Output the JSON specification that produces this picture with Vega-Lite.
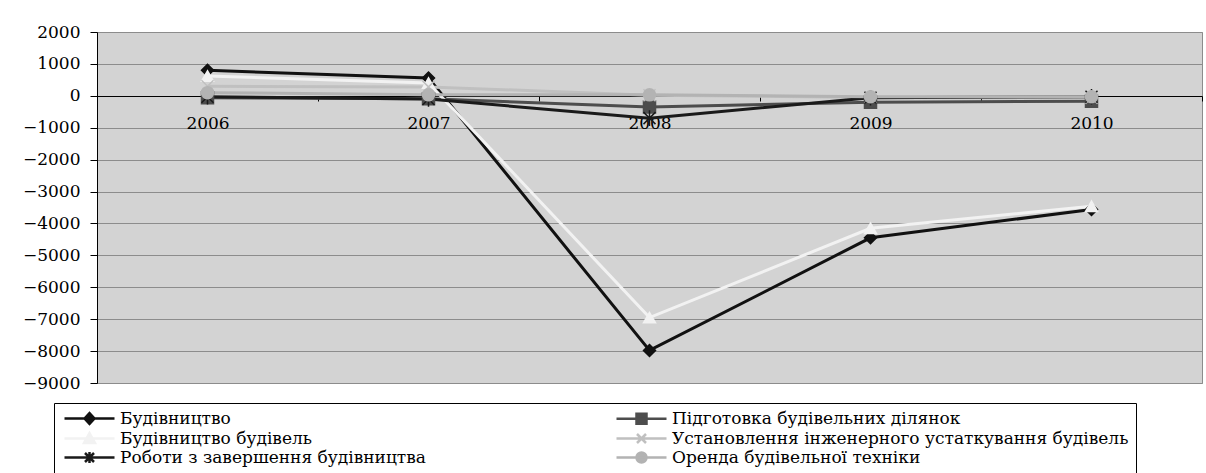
{
  "$schema": "https://vega.github.io/schema/vega-lite/v6.json",
  "width": 1105,
  "height": 351,
  "autosize": {"type": "none"},
  "padding": {"left": 97, "top": 32, "right": 4, "bottom": 90},
  "background": "white",
  "config": {
    "view": {"fill": "#d3d3d3", "stroke": "#8c8c8c", "strokeWidth": 1},
    "font": "DejaVu Serif"
  },
  "data": {
    "values": [
      {"year": "2006", "series": "Будівництво", "value": 800},
      {"year": "2007", "series": "Будівництво", "value": 560},
      {"year": "2008", "series": "Будівництво", "value": -7980},
      {"year": "2009", "series": "Будівництво", "value": -4450},
      {"year": "2010", "series": "Будівництво", "value": -3560},
      {"year": "2006", "series": "Підготовка будівельних ділянок", "value": -60},
      {"year": "2007", "series": "Підготовка будівельних ділянок", "value": -90},
      {"year": "2008", "series": "Підготовка будівельних ділянок", "value": -350},
      {"year": "2009", "series": "Підготовка будівельних ділянок", "value": -200},
      {"year": "2010", "series": "Підготовка будівельних ділянок", "value": -170},
      {"year": "2006", "series": "Будівництво будівель", "value": 620},
      {"year": "2007", "series": "Будівництво будівель", "value": 400},
      {"year": "2008", "series": "Будівництво будівель", "value": -6950},
      {"year": "2009", "series": "Будівництво будівель", "value": -4150},
      {"year": "2010", "series": "Будівництво будівель", "value": -3460},
      {"year": "2006", "series": "Установлення інженерного устаткування будівель", "value": 300},
      {"year": "2007", "series": "Установлення інженерного устаткування будівель", "value": 280},
      {"year": "2008", "series": "Установлення інженерного устаткування будівель", "value": 20},
      {"year": "2009", "series": "Установлення інженерного устаткування будівель", "value": -50},
      {"year": "2010", "series": "Установлення інженерного устаткування будівель", "value": -60},
      {"year": "2006", "series": "Роботи з завершення будівництва", "value": -30},
      {"year": "2007", "series": "Роботи з завершення будівництва", "value": -100},
      {"year": "2008", "series": "Роботи з завершення будівництва", "value": -700},
      {"year": "2009", "series": "Роботи з завершення будівництва", "value": -60},
      {"year": "2010", "series": "Роботи з завершення будівництва", "value": -30},
      {"year": "2006", "series": "Оренда будівельної техніки", "value": 100},
      {"year": "2007", "series": "Оренда будівельної техніки", "value": 30},
      {"year": "2008", "series": "Оренда будівельної техніки", "value": 30},
      {"year": "2009", "series": "Оренда будівельної техніки", "value": -30},
      {"year": "2010", "series": "Оренда будівельної техніки", "value": -30}
    ]
  },
  "encoding": {
    "x": {
      "field": "year",
      "type": "ordinal",
      "scale": {"type": "band", "paddingInner": 0, "paddingOuter": 0},
      "axis": {
        "orient": "bottom",
        "offset": -287,
        "title": null,
        "grid": false,
        "labelAngle": 0,
        "domainColor": "black",
        "domainWidth": 1,
        "ticks": true,
        "tickBand": "extent",
        "tickSize": 5,
        "tickColor": "black",
        "labelPadding": 14,
        "labelFont": "DejaVu Serif",
        "labelFontSize": 17,
        "labelColor": "black"
      }
    },
    "y": {
      "field": "value",
      "type": "quantitative",
      "scale": {"domain": [-9000, 2000], "nice": false, "zero": false},
      "axis": {
        "title": null,
        "values": [-9000, -8000, -7000, -6000, -5000, -4000, -3000, -2000, -1000, 0, 1000, 2000],
        "format": "d",
        "grid": true,
        "gridColor": "#8c8c8c",
        "gridWidth": 1,
        "gridOpacity": 1,
        "domainColor": "black",
        "tickColor": "black",
        "tickSize": 7,
        "labelPadding": 10,
        "labelFont": "DejaVu Serif",
        "labelFontSize": 17,
        "labelColor": "black"
      }
    }
  },
  "layer": [
    {
      "mark": {"type": "line", "strokeWidth": 3},
      "encoding": {
        "color": {
          "field": "series",
          "type": "nominal",
          "scale": {
            "domain": ["Будівництво", "Підготовка будівельних ділянок", "Будівництво будівель", "Установлення інженерного устаткування будівель", "Роботи з завершення будівництва", "Оренда будівельної техніки"],
            "range": ["#111111", "#4d4d4d", "#f2f2f2", "#c0c0c0", "#1a1a1a", "#b3b3b3"]
          },
          "legend": null
        }
      }
    },
    {
      "mark": {"type": "point", "filled": true, "size": 144, "strokeWidth": 1.5, "opacity": 1},
      "encoding": {
        "color": {
          "field": "series",
          "type": "nominal",
          "scale": {
            "domain": ["Будівництво", "Підготовка будівельних ділянок", "Будівництво будівель", "Установлення інженерного устаткування будівель", "Роботи з завершення будівництва", "Оренда будівельної техніки"],
            "range": ["#111111", "#4d4d4d", "#f2f2f2", "#c0c0c0", "#1a1a1a", "#b3b3b3"]
          },
          "legend": null
        },
        "stroke": {
          "field": "series",
          "type": "nominal",
          "scale": {
            "domain": ["Будівництво", "Підготовка будівельних ділянок", "Будівництво будівель", "Установлення інженерного устаткування будівель", "Роботи з завершення будівництва", "Оренда будівельної техніки"],
            "range": ["#111111", "#4d4d4d", "#f2f2f2", "#c0c0c0", "#1a1a1a", "#b3b3b3"]
          },
          "legend": null
        },
        "shape": {
          "field": "series",
          "type": "nominal",
          "scale": {
            "domain": ["Будівництво", "Підготовка будівельних ділянок", "Будівництво будівель", "Установлення інженерного устаткування будівель", "Роботи з завершення будівництва", "Оренда будівельної техніки"],
            "range": ["diamond", "square", "triangle-up", "M-1,-1L1,1M-1,1L1,-1", "M-1,-1L1,1M-1,1L1,-1M0,-1.3V1.3", "circle"]
          },
          "legend": null
        }
      }
    },
    {
      "transform": [{"filter": {"field": "series", "equal": "none"}}],
      "mark": {"type": "point", "filled": true, "size": 100, "strokeWidth": 2.5, "opacity": 1},
      "encoding": {
        "color": {
          "field": "series",
          "type": "nominal",
          "scale": {
            "domain": ["Будівництво", "Будівництво будівель", "Роботи з завершення будівництва", "Підготовка будівельних ділянок", "Установлення інженерного устаткування будівель", "Оренда будівельної техніки"],
            "range": ["#111111", "#f2f2f2", "#1a1a1a", "#4d4d4d", "#c0c0c0", "#b3b3b3"]
          },
          "legend": {"title": null, "orient": "none", "legendX": -43, "legendY": 371, "columns": 2, "columnPadding": 185, "rowPadding": -1, "padding": 7, "strokeColor": "black", "fillColor": "white", "labelFont": "DejaVu Serif", "labelFontSize": 17, "labelColor": "black", "labelLimit": 700, "symbolStrokeWidth": 2.5, "labelOffset": 42, "symbolOpacity": 1}
        },
        "stroke": {
          "field": "series",
          "type": "nominal",
          "scale": {
            "domain": ["Будівництво", "Будівництво будівель", "Роботи з завершення будівництва", "Підготовка будівельних ділянок", "Установлення інженерного устаткування будівель", "Оренда будівельної техніки"],
            "range": ["#111111", "#f2f2f2", "#1a1a1a", "#4d4d4d", "#c0c0c0", "#b3b3b3"]
          },
          "legend": {"title": null, "orient": "none", "legendX": -43, "legendY": 371, "columns": 2, "columnPadding": 185, "rowPadding": -1, "padding": 7, "strokeColor": "black", "fillColor": "white", "labelFont": "DejaVu Serif", "labelFontSize": 17, "labelColor": "black", "labelLimit": 700, "symbolStrokeWidth": 2.5, "labelOffset": 42, "symbolOpacity": 1}
        },
        "shape": {
          "field": "series",
          "type": "nominal",
          "scale": {
            "domain": ["Будівництво", "Будівництво будівель", "Роботи з завершення будівництва", "Підготовка будівельних ділянок", "Установлення інженерного устаткування будівель", "Оренда будівельної техніки"],
            "range": [
              "M-1,0H9M3,0L4,-1.1L5,0L4,1.1Z",
              "M-1,0H9M4,-1.1L5.1,0.9H2.9Z",
              "M-1,0H9M3.1,-0.9L4.9,0.9M3.1,0.9L4.9,-0.9M4,-1.1V1.1",
              "M-1,0H9M3,-1H5V1H3Z",
              "M-1,0H9M3.1,-0.9L4.9,0.9M3.1,0.9L4.9,-0.9",
              "M-1,0H9M5,0A1,1,0,1,1,3,0A1,1,0,1,1,5,0Z"
            ]
          },
          "legend": {"title": null, "orient": "none", "legendX": -43, "legendY": 371, "columns": 2, "columnPadding": 185, "rowPadding": -1, "padding": 7, "strokeColor": "black", "fillColor": "white", "labelFont": "DejaVu Serif", "labelFontSize": 17, "labelColor": "black", "labelLimit": 700, "symbolStrokeWidth": 2.5, "labelOffset": 42, "symbolOpacity": 1}
        }
      }
    }
  ],
  "resolve": {"scale": {"color": "independent", "stroke": "independent", "shape": "independent"}}
}
